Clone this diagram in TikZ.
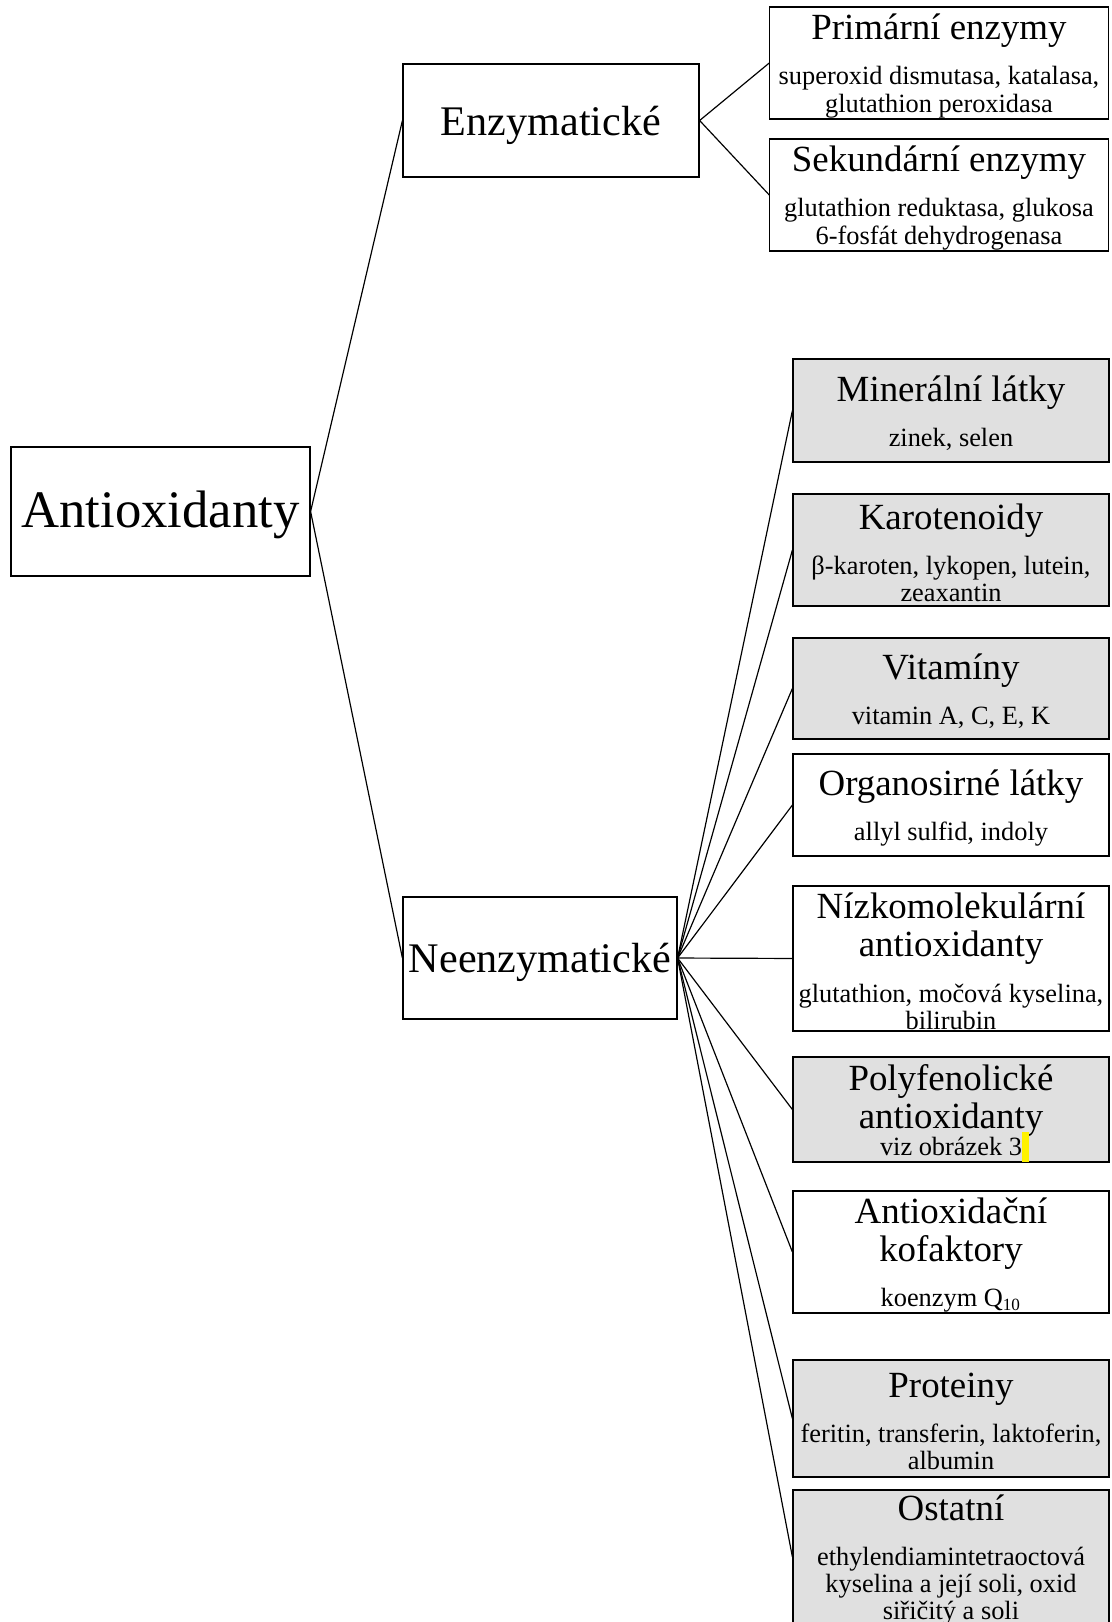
\documentclass[tikz,border=0pt]{standalone}
\usepackage{fontspec}
\setmainfont{Liberation Serif}
\usetikzlibrary{calc}
\definecolor{boxgray}{RGB}{224,224,224}
\newcommand{\nadpis}[1]{{\fontsize{14}{14.5}\selectfont #1\par}}
\newcommand{\obsah}[1]{{\fontsize{10}{10.3}\selectfont #1\par}\vspace{-2.2pt}\hrule height 0pt}
\newcommand{\posun}[2]{\raisebox{-#1}[\height][\depth]{#2}}

\begin{document}
\begin{tikzpicture}[line width=0.45pt,
	box/.style={draw, inner sep=0pt},
	hlavni/.style={box, font=\fontsize{20}{24}\selectfont, minimum width=3.987cm, minimum height=1.72cm},
	druh/.style={box, font=\fontsize{16}{19}\selectfont},
	enzym/.style={box, align=flush center, text width=4.51cm, minimum height=1.493cm},
	latka/.style={box, align=flush center, text width=4.213cm},
	seda/.style={fill=boxgray}]
	\useasboundingbox (0,0) rectangle (14.827,21.627);
	\clip (0,0) rectangle (14.827,21.627);
			\node[hlavni] at (2.14,14.807) (anti) {\posun{1.2pt}{Antioxidanty}};
			\node[druh, minimum width=3.947cm, minimum height=1.507cm] at (7.347,20.02) (enz) {\posun{1.9pt}{Enzymatické}};
			\node[druh, minimum width=3.653cm, minimum height=1.627cm] at (7.2,8.853) (neenz) {\posun{1.5pt}{Neenzymatické}};
			\node[enzym] at (12.52,20.787) (prim) {\nadpis{Primární enzymy}\vspace{6.9pt}\obsah{superoxid dismutasa, katalasa,\\ glutathion peroxidasa}};
			\node[enzym] at (12.52,19.027) (sek) {\nadpis{Sekundární enzymy}\vspace{6.9pt}\obsah{glutathion reduktasa, glukosa\\ 6-fosfát dehydrogenasa}};
			\node[latka, seda, minimum height=1.373cm] at (12.68,16.153) (miner) {\nadpis{Minerální látky}\vspace{6.9pt}\obsah{zinek, selen}};
			\node[latka, seda, minimum height=1.493cm] at (12.68,14.293) (karot) {\nadpis{Karotenoidy}\vspace{6.9pt}\obsah{β-karoten, lykopen, lutein,\\ zeaxantin}};
			\node[latka, seda, minimum height=1.347cm] at (12.68,12.447) (vitam) {\nadpis{Vitamíny}\vspace{6.9pt}\obsah{vitamin A, C, E, K}};
			\node[latka, minimum height=1.36cm] at (12.68,10.893) (organ) {\nadpis{Organosirné látky}\vspace{6.9pt}\obsah{allyl sulfid, indoly}};
			\node[latka, minimum height=1.933cm] at (12.68,8.847) (nizko) {\nadpis{Nízkomolekulární\\ antioxidanty}\vspace{6.9pt}\obsah{glutathion, močová kyselina,\\ bilirubin}};
			\node[latka, seda, minimum height=1.4cm] at (12.68,6.833) (polyf) {\nadpis{Polyfenolické\\ antioxidanty}\vspace{0pt}\obsah{viz obrázek 3\rlap{\smash{\textcolor{yellow}{\rule[-2.3pt]{2.5pt}{11.3pt}}}}}\vspace{1.8pt}\hrule height 0pt};
			\node[latka, minimum height=1.627cm] at (12.68,4.933) (kofak) {\nadpis{Antioxidační\\ kofaktory}\vspace{6.9pt}\obsah{koenzym Q\textsubscript{\fontsize{6.5}{7}\selectfont 10}}};
			\node[latka, seda, minimum height=1.56cm] at (12.68,2.713) (prot) {\nadpis{Proteiny}\vspace{6.9pt}\obsah{feritin, transferin, laktoferin,\\ albumin}};
			\node[latka, seda, minimum height=1.787cm] at (12.68,0.867) (ostat) {\nadpis{Ostatní}\vspace{6.9pt}\obsah{ethylendiamintetraoctová\\ kyselina a její soli, oxid\\ siřičitý a soli}};
			\draw (anti.east) -- (enz.west);
			\draw (anti.east) -- (neenz.west);
			\draw (enz.east) -- (prim.west);
			\draw (enz.east) -- (sek.west);
			\draw (neenz.east) -- (miner.west);
			\draw (neenz.east) -- (karot.west);
			\draw (neenz.east) -- (vitam.west);
			\draw (neenz.east) -- (organ.west);
			\draw (neenz.east) -- (nizko.west);
			\draw (neenz.east) -- (polyf.west);
			\draw (neenz.east) -- (kofak.west);
			\draw (neenz.east) -- (prot.west);
			\draw (neenz.east) -- (ostat.west);
\end{tikzpicture}
\end{document}
